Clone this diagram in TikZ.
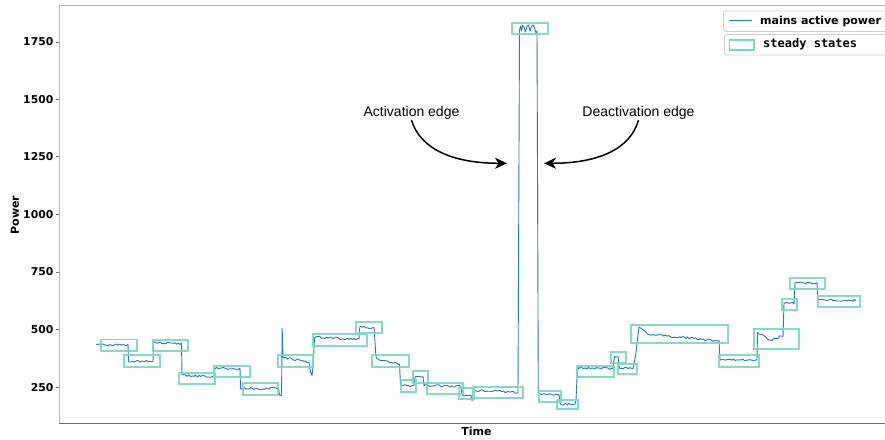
\documentclass[tikz,border=0pt]{standalone}
\usepackage{fontspec}
\setmainfont{DejaVu Sans}
\newfontfamily\annfont{Liberation Sans}
\newfontfamily\monofam{DejaVu Sans Mono}
\usetikzlibrary{arrows.meta}

\definecolor{tracecol}{RGB}{40,120,190}
\definecolor{statecol}{RGB}{122,214,196}
\definecolor{spinelight}{RGB}{185,185,185}
\definecolor{spinedark}{RGB}{110,110,110}
\definecolor{framecol}{RGB}{208,208,208}

% noisy segment of the power trace, from (x1,y1) to (x2,y2)
\newcommand{\nseg}[5]{-- plot[domain=#1:#2,samples=#5] (\x,{#3+(#4-#3)*(\x-#1)/(#2-#1)+1.1*rand})}

\tikzset{
  trace/.style={draw=tracecol, line width=0.9pt, line join=round},
  statebox/.style={draw=statecol, line width=1.9pt, opacity=0.9},
  ticklabel/.style={anchor=east, inner sep=0pt, font=\fontsize{10.8}{13}\selectfont\bfseries},
  axlabel/.style={inner sep=0pt, font=\fontsize{11}{13}\selectfont\bfseries},
  annot/.style={inner sep=1pt, font=\annfont\fontsize{14}{16}\selectfont},
  edgearrow/.style={draw=black, line width=1.5pt, -{Stealth[length=12pt,width=11pt,inset=3.5pt]}},
  legframe/.style={draw=framecol, line width=0.9pt, rounded corners=2.5pt, fill=white},
}

\begin{document}
\begin{tikzpicture}[x=1pt,y=-1pt]
\useasboundingbox (0,0) rectangle (885,439);
\pgfmathsetseed{11}

% axes frame
\draw[spinelight, line width=0.9pt] (59,423) -- (59,5) -- (886,5);
\draw[spinedark, line width=0.9pt] (59,423) -- (886,423);

% y ticks and labels
\foreach \v/\yy in {1750/42,1500/99.3,1250/156.7,1000/214.7,750/272,500/329.7,250/387.3}{
  \draw[spinedark, line width=0.8pt] (55.5,\yy) -- (59,\yy);
  \node[ticklabel] (tick\v) at (53.5,\yy) {\v};
}

\node[axlabel, rotate=90] (ylab) at (15,215) {Power};
\node[axlabel] (xlab) at (476.5,431) {Time};

% mains active power
\draw[trace] (96.5,344)
  \nseg{97}{128}{344.5}{345}{20}
  -- (128.5,361.5) \nseg{129}{153}{361.5}{361}{16}
  -- (153.5,343) \nseg{154}{181.5}{342.5}{344}{18}
  -- (182,375) \nseg{182.5}{214}{375.5}{377}{20}
  -- (214.5,367.5) \nseg{215}{240}{368}{369}{16}
  -- (240.5,388.5) \nseg{241}{278.5}{388.5}{388.5}{24}
  -- (279.5,395) -- (281.5,395.5) -- (282.2,328.5) -- (283,357)
  \nseg{284}{309}{357.5}{362}{16}
  -- (310.5,372) -- (312,375.5) -- (313.2,366) -- (314.5,338)
  \nseg{315}{359}{337}{339.5}{28}
  -- (359.8,327) \nseg{360.5}{374}{326.5}{328}{9}
  -- (376,357) \nseg{377}{399.5}{359}{364.5}{15}
  -- (400.5,385) \nseg{401}{414}{385.5}{385.5}{8}
  -- (415,377) \nseg{416}{423}{376.5}{377.5}{5}
  -- (424,386) \nseg{425}{461}{385.5}{386.5}{24}
  -- (462,395) \nseg{462.5}{471}{395}{395.5}{6}
  -- (472,401) -- (474,391) \nseg{475}{518}{390.5}{392.5}{28}
  -- (519.5,30) -- (520.5,26) -- (521.5,31) -- (522.5,25.5) -- (524,27)
  -- (525.5,32) -- (527,26) -- (528.5,25) -- (530,31) -- (531.5,26.5)
  -- (533,25) -- (534.5,28) -- (536,33) -- (537,31)
  -- (538.3,393) \nseg{539.5}{559}{394}{394.5}{13}
  -- (560,403) \nseg{561}{575}{404}{404}{10}
  -- (576,400) -- (577.5,367) \nseg{578.5}{613}{368}{368.5}{22}
  -- (614.5,356) \nseg{615}{618}{356}{356}{3}
  -- (619,366) \nseg{620}{633}{368}{368}{9}
  -- (635.5,356) -- (639,327) -- (645,331) \nseg{648}{719}{334}{341}{46}
  -- (720,360) \nseg{721}{757}{360}{360}{24}
  -- (757.5,332.5) \nseg{759}{772}{334}{340.5}{9} \nseg{773}{783}{339}{336}{7}
  -- (784,303) \nseg{785}{794}{303}{303}{6}
  -- (795,283) \nseg{796}{817}{283}{283.5}{14}
  -- (818,300) \nseg{819}{856}{300}{300.5}{25};

% steady states
\foreach \xa/\ya/\xb/\yb in {
  101/339.5/137.3/350.7, 124/355.3/160/366.7, 152.7/339.7/188.3/351,
  178.7/372.7/215/384, 214.3/366/250/377.3, 242.7/383.3/278.3/395,
  277.7/355/313.3/366.7, 312.7/333.7/366.7/345.7, 355.7/322/382.3/333.3,
  372.3/355.3/409/366.7, 401/380/415.7/391.7, 413.3/371/428.3/383.3,
  427.3/383.3/463.3/394.3, 459.3/388.3/474/399.3, 473.3/387.3/523.3/398.3,
  512.3/23.3/548.3/34, 539/390.7/560.7/401.7, 556.7/400/578.3/409.3,
  577.3/365.7/614/376.7, 610.7/351.7/625.7/363.3, 618.3/364/636.7/374,
  630.7/325.3/728.3/343.3, 718.7/355.3/759.3/366.7, 754/329.3/798.7/348.7,
  782.3/299/796.7/310, 790/278.3/825.3/289, 817.7/295.7/860/306.7}{
  \draw[statebox] (\xa,\ya) rectangle (\xb,\yb);
}

% legend
\draw[legframe] (723.5,11) rectangle (895,31.5);
\draw[tracecol, line width=0.9pt] (728.5,20.7) -- (751.5,20.7);
\node[axlabel, anchor=west] (legA) at (760,21) {mains active power};
\draw[legframe] (724.5,34.5) rectangle (895,55);
\draw[statecol, line width=1.6pt] (729.5,40) rectangle (754,50);
\node[anchor=west, inner sep=0pt, font=\monofam\bfseries\fontsize{12}{14}\selectfont] (legB) at (763,44) {steady states};

% edge annotations
\node[annot] (act) at (411.5,112.5) {Activation edge};
\node[annot] (deact) at (638.5,112.5) {Deactivation edge};
\coordinate (actTip) at (507,163.3);
\coordinate (deactTip) at (544,163.3);
\draw[edgearrow] (act.south) .. controls (420.5,149) and (452.3,163.2) .. (actTip);
\draw[edgearrow] (deact.south) .. controls (630.2,149) and (598.7,163.2) .. (deactTip);
\end{tikzpicture}
\end{document}
